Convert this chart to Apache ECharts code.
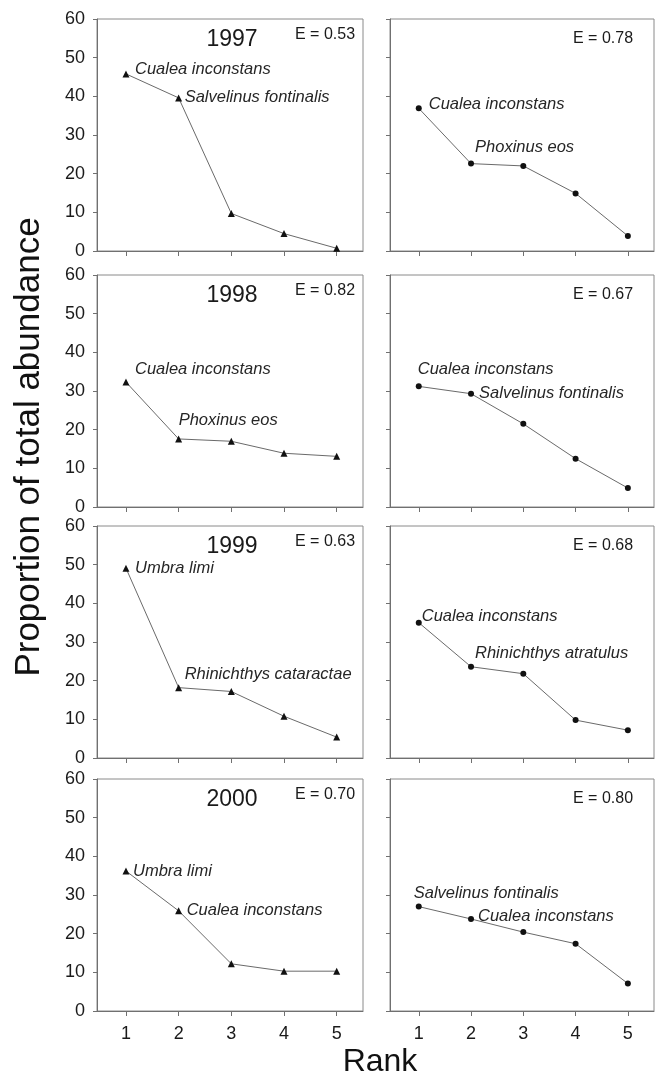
<!DOCTYPE html>
<html>
<head>
<meta charset="utf-8">
<script src="https://cdn.jsdelivr.net/npm/echarts@6/dist/echarts.min.js"></script>
<style>
html,body{margin:0;padding:0;background:#fff;}
#chart{width:659px;height:1080px;}
</style>
</head>
<body>
<div id="chart"></div>
<script>
// ---------- data ----------
const ranks = [1, 2, 3, 4, 5];
const yTicks = [0, 10, 20, 30, 40, 50, 60];
const years = ['1997', '1998', '1999', '2000'];
const leftE = ['0.53', '0.82', '0.63', '0.70'];
const rightE = ['0.78', '0.67', '0.68', '0.80'];

const left1997 = [45.8, 39.6, 9.7, 4.5, 0.7];
const left1998 = [32.3, 17.6, 17.0, 13.9, 13.1];
const left1999 = [49.1, 18.2, 17.2, 10.8, 5.4];
const left2000 = [36.2, 25.9, 12.2, 10.3, 10.3];

const right1997 = [36.9, 22.6, 22.0, 14.9, 3.9];
const right1998 = [31.2, 29.3, 21.5, 12.5, 4.9];
const right1999 = [35.0, 23.6, 21.8, 9.8, 7.2];
const right2000 = [27.0, 23.8, 20.4, 17.4, 7.1];

const leftSpecies1997 = ['Cualea inconstans', 'Salvelinus fontinalis'];
const leftSpecies1998 = ['Cualea inconstans', 'Phoxinus eos'];
const leftSpecies1999 = ['Umbra limi', 'Rhinichthys cataractae'];
const leftSpecies2000 = ['Umbra limi', 'Cualea inconstans'];
const rightSpecies1997 = ['Cualea inconstans', 'Phoxinus eos'];
const rightSpecies1998 = ['Cualea inconstans', 'Salvelinus fontinalis'];
const rightSpecies1999 = ['Cualea inconstans', 'Rhinichthys atratulus'];
const rightSpecies2000 = ['Salvelinus fontinalis', 'Cualea inconstans'];

// ---------- layout / style (not data) ----------
const FONT = '"Liberation Sans", Arial, sans-serif';
const rowTops = [19, 275, 526, 779];
const PH = 232;
const LX = 97, LW = 266;
const RX = 390, RW = 264;
// label offsets [dx, dy] from point centre to text start (left, middle)
const leftOffsets = [
  [[9, -5], [6, 0]],
  [[9, -13], [0, -19]],
  [[9, 0], [6, -13]],
  [[7, 0], [8, 0]]
];
const rightOffsets = [
  [[10, -4], [4, -16]],
  [[-1, -17], [8, 0]],
  [[3, -6], [4, -13]],
  [[-5, -13], [7, -3]]
];

const leftSeries = [left1997, left1998, left1999, left2000];
const rightSeries = [right1997, right1998, right1999, right2000];
const leftSpecies = [leftSpecies1997, leftSpecies1998, leftSpecies1999, leftSpecies2000];
const rightSpecies = [rightSpecies1997, rightSpecies1998, rightSpecies1999, rightSpecies2000];

const grids = [], xAxes = [], yAxes = [], series = [], graphics = [];
const axisGray = '#707070';

function addPanel(idx, left, width, top, values, names, offsets, symbol, symSize, showYLabels, showXLabels) {
  grids.push({left: left, top: top, width: width, height: PH, show: true,
    borderColor: '#8a8a8a', borderWidth: 1, containLabel: false});
  xAxes.push({
    type: 'value', gridIndex: idx, min: 0.45, max: 5.5,
    axisLine: {show: true, onZero: false, lineStyle: {color: axisGray, width: 1}},
    axisTick: {show: true, customValues: ranks, length: 5, inside: false, lineStyle: {color: axisGray}},
    axisLabel: {show: showXLabels, customValues: ranks, fontSize: 18, fontFamily: FONT, color: '#1a1a1a', margin: 14},
    splitLine: {show: false}
  });
  yAxes.push({
    type: 'value', gridIndex: idx, min: 0, max: 60, interval: 10,
    axisLine: {show: true, lineStyle: {color: axisGray, width: 1}},
    axisTick: {show: true, length: 4, inside: false, lineStyle: {color: axisGray}},
    axisLabel: {show: showYLabels, fontSize: 18, fontFamily: FONT, color: '#1a1a1a', margin: 12,
      customValues: yTicks},
    splitLine: {show: false}
  });
  const data = values.map((v, i) => {
    const item = {value: [ranks[i], v]};
    if (i < names.length) {
      item.label = {
        show: true, position: 'right', distance: 0,
        offset: [offsets[i][0] - symSize / 2, offsets[i][1]],
        formatter: names[i], fontStyle: 'italic', fontSize: 16.5, fontFamily: FONT,
        color: '#262626', align: 'left', verticalAlign: 'middle'
      };
    }
    return item;
  });
  series.push({
    type: 'line', xAxisIndex: idx, yAxisIndex: idx, data: data,
    symbol: symbol, symbolSize: symSize, showAllSymbol: true,
    lineStyle: {color: '#6a6a6a', width: 1},
    itemStyle: {color: '#111'},
    label: {show: false},
    animation: false, silent: true
  });
}

for (let r = 0; r < 4; r++) {
  const last = r === 3;
  addPanel(r * 2, LX, LW, rowTops[r], leftSeries[r], leftSpecies[r], leftOffsets[r], 'triangle', 7, true, last);
  addPanel(r * 2 + 1, RX, RW, rowTops[r], rightSeries[r], rightSpecies[r], rightOffsets[r], 'circle', 6, false, last);
  graphics.push({type: 'text', x: 232, y: rowTops[r] + 21,
    style: {text: years[r], fontSize: 23, fontFamily: FONT, fill: '#1a1a1a', align: 'center', verticalAlign: 'middle'}});
  graphics.push({type: 'text', x: 325, y: rowTops[r] + 16,
    style: {text: 'E = ' + leftE[r], fontSize: 16, fontFamily: FONT, fill: '#1a1a1a', align: 'center', verticalAlign: 'middle'}});
  graphics.push({type: 'text', x: 603, y: rowTops[r] + 20,
    style: {text: 'E = ' + rightE[r], fontSize: 16, fontFamily: FONT, fill: '#1a1a1a', align: 'center', verticalAlign: 'middle'}});
}

graphics.push({type: 'text', x: 29, y: 447, rotation: Math.PI / 2,
  style: {text: 'Proportion of total abundance', fontSize: 35, fontFamily: FONT, fill: '#111', align: 'center', verticalAlign: 'middle'}});
graphics.push({type: 'text', x: 380, y: 1062,
  style: {text: 'Rank', fontSize: 32, fontFamily: FONT, fill: '#111', align: 'center', verticalAlign: 'middle'}});

const chart = echarts.init(document.getElementById('chart'), null, {renderer: 'canvas'});
chart.setOption({
  backgroundColor: '#ffffff',
  animation: false,
  grid: grids, xAxis: xAxes, yAxis: yAxes, series: series,
  graphic: graphics
});
</script>
</body>
</html>
